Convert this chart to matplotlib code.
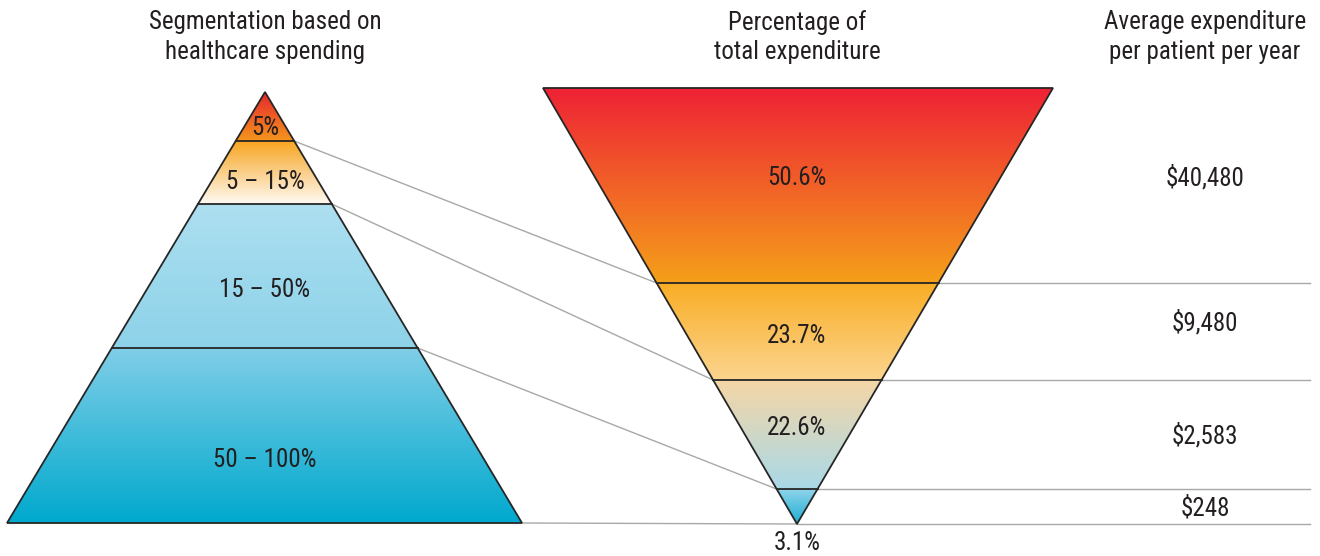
import numpy as np
import matplotlib.pyplot as plt
from matplotlib.patches import Polygon
from matplotlib.colors import LinearSegmentedColormap

# data
segments = ["5%", "5 – 15%", "15 – 50%", "50 – 100%"]
share = [50.6, 23.7, 22.6, 3.1]
spend = [40480, 9480, 2583, 248]

headers = ["Segmentation based on\nhealthcare spending",
           "Percentage of\ntotal expenditure",
           "Average expenditure\nper patient per year"]

# layout (pixel space)
W, H = 1320, 556
left_apex = (265, 92)
left_base = (7, 522, 523)          # x0, x1, y
left_levels = [92, 141, 204, 348, 523]
right_top = (543, 1053, 88)
right_apex = (797, 524)
right_levels = [88, 283, 380, 489, 524]

left_colors = [("#e6262c", "#f4961d"), ("#f7a521", "#fffaf3"),
               ("#addff0", "#8dd2e9"), ("#80cee7", "#00a9ce")]
right_colors = [("#ee2235", "#f5a01a"), ("#f9ad25", "#fcd58f"),
                ("#f5d6a6", "#a9d9e8"), ("#90d4ea", "#1aaed2")]

plt.rcParams['font.family'] = ['Roboto Condensed', 'Liberation Sans Narrow', 'Roboto', 'DejaVu Sans']

fig = plt.figure(figsize=(W / 100, H / 100), dpi=100)
ax = fig.add_axes([0, 0, 1, 1])
ax.set_xlim(0, W)
ax.set_ylim(H, 0)
ax.axis("off")


def left_x(y):
    t = (y - left_apex[1]) / (left_base[2] - left_apex[1])
    return (left_apex[0] + t * (left_base[0] - left_apex[0]),
            left_apex[0] + t * (left_base[1] - left_apex[0]))


def right_x(y):
    t = (y - right_top[2]) / (right_apex[1] - right_top[2])
    return (right_top[0] + t * (right_apex[0] - right_top[0]),
            right_top[1] + t * (right_apex[0] - right_top[1]))


def band(xfun, y0, y1, c0, c1):
    a0, b0 = xfun(y0)
    a1, b1 = xfun(y1)
    pts = [(a0, y0), (b0, y0), (b1, y1), (a1, y1)]
    poly = Polygon(pts, closed=True, facecolor="none", edgecolor="none")
    ax.add_patch(poly)
    cmap = LinearSegmentedColormap.from_list("g", [c0, c1])
    grad = np.linspace(0, 1, 256).reshape(-1, 1)
    xs = min(a0, a1) - 1, max(b0, b1) + 1
    im = ax.imshow(grad, cmap=cmap, aspect="auto", extent=(xs[0], xs[1], y1, y0),
                   interpolation="bicubic", zorder=1)
    im.set_clip_path(poly)


# connector lines and rules
line_kw = dict(color="#a8a8a8", lw=1.0, zorder=0.5)
for i in range(1, 5):
    ly = left_levels[i]
    lx = left_x(ly)[1]
    ry = right_levels[i]
    rx0, rx1 = right_x(ry)
    ax.plot([lx, rx0], [ly, ry], **line_kw)
    ax.plot([rx1, 1310], [ry, ry], **line_kw)

# bands
for i in range(4):
    band(left_x, left_levels[i], left_levels[i + 1], *left_colors[i])
    band(right_x, right_levels[i], right_levels[i + 1], *right_colors[i])

# outlines
edge = "#262626"
ax.add_patch(Polygon([left_apex, (left_base[1], left_base[2]), (left_base[0], left_base[2])],
                     closed=True, fill=False, edgecolor=edge, lw=1.3, zorder=3))
ax.add_patch(Polygon([(right_top[0], right_top[2]), (right_top[1], right_top[2]), right_apex],
                     closed=True, fill=False, edgecolor=edge, lw=1.3, zorder=3))
for y in left_levels[1:-1]:
    a, b = left_x(y)
    ax.plot([a, b], [y, y], color=edge, lw=1.3, zorder=3)
for y in right_levels[1:-1]:
    a, b = right_x(y)
    ax.plot([a, b], [y, y], color=edge, lw=1.3, zorder=3)

txt = dict(fontsize=18, color="#231f20", ha="center", va="center", zorder=4)

# labels
left_label_y = [128, 182, 290, 460]
for s, y in zip(segments, left_label_y):
    ax.text(left_apex[0], y, s, **txt)

right_label_y = [178, 336, 428, 543]
for v, y in zip(share, right_label_y):
    ax.text(right_apex[0], y, f"{v:.1f}%", **txt)

spend_y = [178, 323, 436, 508]
for v, y in zip(spend, spend_y):
    ax.text(1205, y, f"${v:,}", **txt)

for s, x in zip(headers, [265, 797, 1205]):
    ax.text(x, 37, s, linespacing=1.3, **txt)

fig.savefig("out.png", dpi=100)
